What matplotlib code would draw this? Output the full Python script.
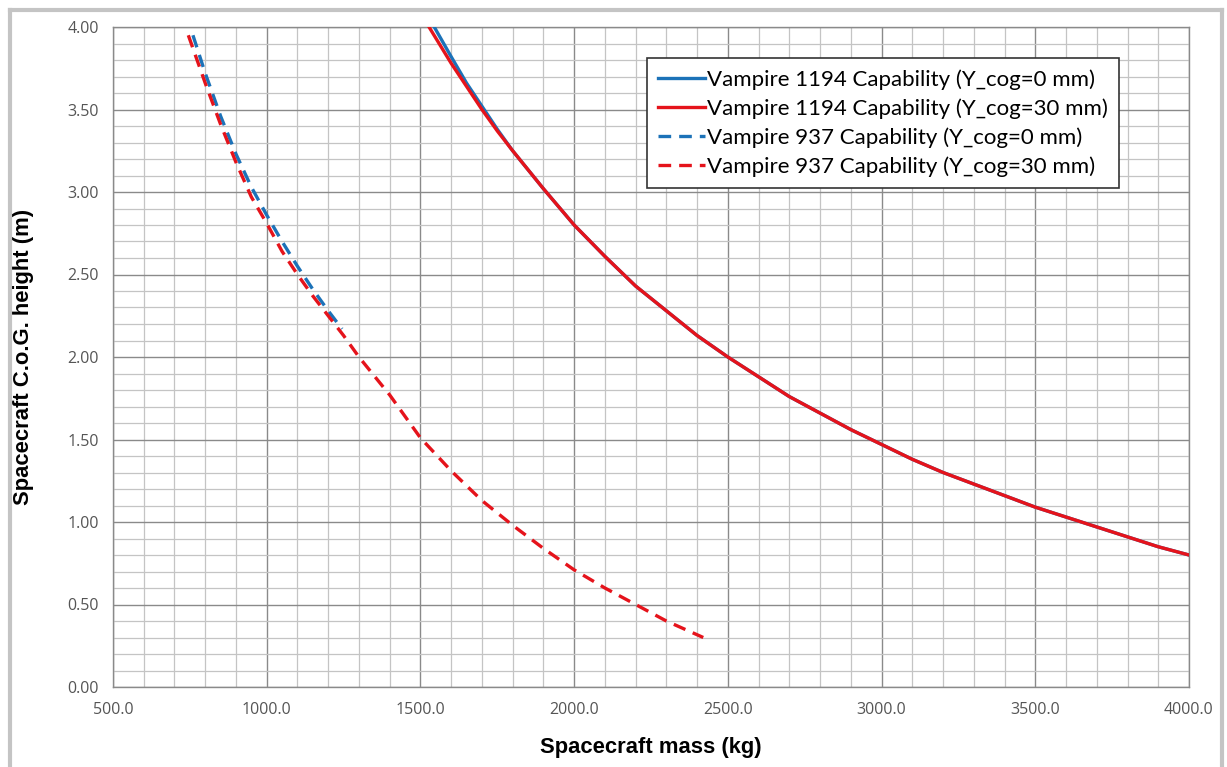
import matplotlib
matplotlib.use("Agg")
import matplotlib.pyplot as plt
from matplotlib.lines import Line2D
from matplotlib.ticker import MultipleLocator, FormatStrFormatter

# ---------------- curve data (mass in kg, C.o.G. height in m)
mass_1194_y0 = [1545, 1600, 1650, 1700, 1750, 1800, 1900, 2000, 2100, 2200, 2300, 2400,
                2500, 2600, 2700, 2800, 2900, 3000, 3100, 3200, 3300, 3400, 3500,
                3600, 3700, 3800, 3900, 4000]
height_1194_y0 = [4.00, 3.82, 3.66, 3.52, 3.38, 3.25, 3.02, 2.80, 2.61, 2.43, 2.28, 2.13,
                  2.00, 1.88, 1.76, 1.66, 1.56, 1.47, 1.38, 1.30, 1.23, 1.16, 1.09,
                  1.03, 0.97, 0.91, 0.85, 0.80]

mass_1194_y30 = [1528, 1600, 1650, 1700, 1750, 1800, 1900, 2000, 2100, 2200, 2300, 2400,
                 2500, 2600, 2700, 2800, 2900, 3000, 3100, 3200, 3300, 3400, 3500,
                 3600, 3700, 3800, 3900, 4000]
height_1194_y30 = [4.00, 3.78, 3.64, 3.50, 3.37, 3.25, 3.02, 2.80, 2.61, 2.43, 2.28, 2.13,
                   2.00, 1.88, 1.76, 1.66, 1.56, 1.47, 1.38, 1.30, 1.23, 1.16, 1.09,
                   1.03, 0.97, 0.91, 0.85, 0.80]

mass_937_y0 = [760, 800, 850, 900, 950, 1000, 1050, 1100, 1150, 1200, 1245]
height_937_y0 = [3.95, 3.72, 3.46, 3.23, 3.03, 2.86, 2.70, 2.55, 2.41, 2.28, 2.17]

mass_937_y30 = [745, 800, 850, 900, 950, 1000, 1050, 1100, 1150, 1200, 1250, 1300,
                1400, 1500, 1600, 1700, 1800, 1900, 2000, 2100, 2200, 2300, 2420]
height_937_y30 = [3.95, 3.66, 3.41, 3.18, 2.97, 2.81, 2.64, 2.50, 2.37, 2.25, 2.13, 2.00,
                  1.77, 1.51, 1.31, 1.13, 0.98, 0.84, 0.71, 0.60, 0.50, 0.40, 0.30]

labels = ["Vampire 1194 Capability (Y_cog=0 mm)",
          "Vampire 1194 Capability (Y_cog=30 mm)",
          "Vampire 937 Capability (Y_cog=0 mm)",
          "Vampire 937 Capability (Y_cog=30 mm)"]

blue = "#1c72b8"
red = "#e5131b"

fig = plt.figure(figsize=(12.27, 7.67), dpi=100)
ax = fig.add_axes([113/1227, 80/767, 1076/1227, 660/767])

lw = 2.4
dash = (3.8, 2.4)
ax.plot(mass_1194_y0, height_1194_y0, color=blue, lw=lw, label=labels[0], zorder=3)
ax.plot(mass_1194_y30, height_1194_y30, color=red, lw=lw, label=labels[1], zorder=4)
ax.plot(mass_937_y0, height_937_y0, color=blue, lw=lw, dashes=dash,
        label=labels[2], zorder=3)
ax.plot(mass_937_y30, height_937_y30, color=red, lw=lw, dashes=dash,
        label=labels[3], zorder=4)

# axes range and grid
ax.set_xlim(500, 4000)
ax.set_ylim(0, 4)
ax.xaxis.set_major_locator(MultipleLocator(500))
ax.xaxis.set_minor_locator(MultipleLocator(100))
ax.yaxis.set_major_locator(MultipleLocator(0.5))
ax.yaxis.set_minor_locator(MultipleLocator(0.1))
ax.xaxis.set_major_formatter(FormatStrFormatter("%.1f"))
ax.yaxis.set_major_formatter(FormatStrFormatter("%.2f"))
ax.grid(which="major", color="#8a8a8a", lw=1.0, zorder=1)
ax.grid(which="minor", color="#c4c4c4", lw=0.9, zorder=1)
ax.set_axisbelow(True)
for s in ax.spines.values():
    s.set_color("#8a8a8a")
    s.set_linewidth(1.0)

ax.tick_params(which="both", length=0)
ax.tick_params(axis="x", pad=11, labelsize=11.5, labelcolor="#555555")
ax.tick_params(axis="y", pad=10, labelsize=11.5, labelcolor="#555555")
for t in ax.get_xticklabels() + ax.get_yticklabels():
    t.set_family("Open Sans")

ax.set_xlabel("Spacecraft mass (kg)", family="Liberation Sans", fontweight="bold",
              fontsize=15.8)
ax.set_ylabel("Spacecraft C.o.G. height (m)", family="Liberation Sans",
              fontweight="bold", fontsize=15.8)
ax.xaxis.set_label_coords(0.5, -0.076)
ax.yaxis.set_label_coords(-0.073, 0.5)

leg = ax.legend(loc="upper right", bbox_to_anchor=(0.935, 0.953), borderaxespad=0,
                fancybox=False, framealpha=1, edgecolor="#333333",
                prop={"family": "Lato", "size": 16}, handlelength=2.1,
                handletextpad=0.1, labelspacing=0.38, borderpad=0.5)
leg.get_frame().set_linewidth(1.2)

# light gray frame around the whole chart
frame = dict(color="#c4c4c4", lw=3.0, transform=fig.transFigure, clip_on=False)
x0, x1, y1 = 9.5/1227, 1221.5/1227, 1 - 9.5/767
fig.add_artist(Line2D([x0, x0], [-0.01, y1], **frame))
fig.add_artist(Line2D([x0, x1], [y1, y1], **frame))
fig.add_artist(Line2D([x1, x1], [y1, -0.01], **frame))

fig.savefig("out.png", dpi=100)
